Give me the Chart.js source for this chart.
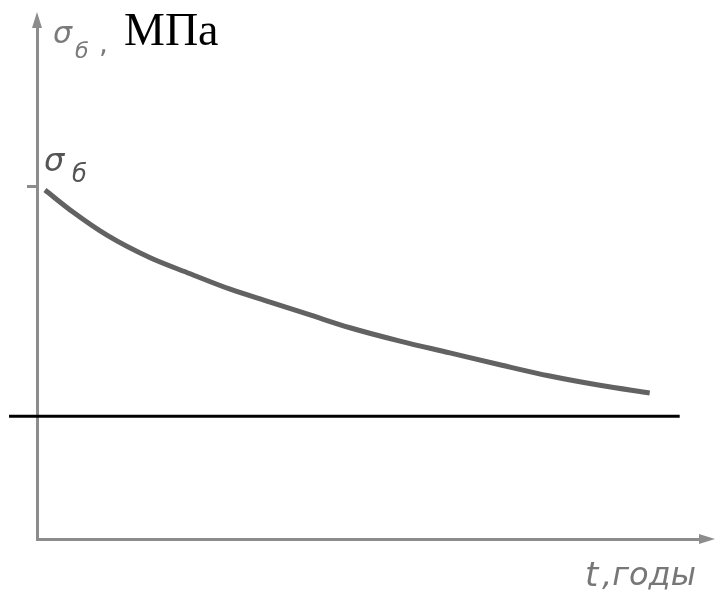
<!DOCTYPE html>
<html>
<head>
<meta charset="utf-8">
<script src="https://cdn.jsdelivr.net/npm/chart.js@4"></script>
<style>
  html, body { margin: 0; padding: 0; background: #fff; }
  #wrap { width: 719px; height: 599px; }
</style>
</head>
<body>
<div id="wrap"><canvas id="decayChart"></canvas></div>
<script>
// time axis (arbitrary units, 0..100) and strength (arbitrary units, 0..100)
const years = [1.2, 5.4, 10.5, 17.0, 23.0, 29.0, 35.0, 41.0, 47.0, 54.5, 62.0, 69.5, 77.0, 84.5, 92.0];
const strength = [67.9, 63.6, 59.1, 54.7, 51.6, 48.6, 46.1, 43.6, 41.1, 38.5, 36.2, 33.9, 31.7, 29.9, 28.4];
const sigmaStart = 68.5;          // marked on the y axis
const limitLevel = 23.9;          // horizontal line
const limitSpan = [-4.2, 96.5];   // from / to on the time axis

const AXIS_COLOR = '#8c8c8c';

// arrowheads on the axes + the hand-written labels
const sketchPlugin = {
  id: 'sketch',
  afterDraw(chart) {
    const { ctx, chartArea, scales } = chart;
    const x0 = scales.x.getPixelForValue(0);
    const y0 = scales.y.getPixelForValue(0);
    ctx.save();
    ctx.fillStyle = AXIS_COLOR;
    // y arrow
    ctx.beginPath();
    ctx.moveTo(x0, chartArea.top - 13);
    ctx.lineTo(x0 - 5, chartArea.top + 3);
    ctx.lineTo(x0 + 5, chartArea.top + 3);
    ctx.closePath();
    ctx.fill();
    // x arrow
    ctx.beginPath();
    ctx.moveTo(chartArea.right + 12, y0);
    ctx.lineTo(chartArea.right - 4, y0 - 5);
    ctx.lineTo(chartArea.right - 4, y0 + 5);
    ctx.closePath();
    ctx.fill();

    ctx.textBaseline = 'alphabetic';
    // axis title at the top
    ctx.fillStyle = '#7a7a7a';
    ctx.font = 'italic 30px "DejaVu Sans"';
    ctx.fillText('σ', x0 + 16, chartArea.top + 18);
    ctx.font = 'italic 22px "DejaVu Sans"';
    ctx.fillText('б', x0 + 38, chartArea.top + 33);
    ctx.font = '28px "DejaVu Sans"';
    ctx.fillText(',', x0 + 62, chartArea.top + 28);
    ctx.fillStyle = '#000';
    ctx.font = '46px "Liberation Serif"';
    ctx.fillText('МПа', x0 + 87, chartArea.top + 20);

    // sigma label at the start of the curve
    const ys = scales.y.getPixelForValue(sigmaStart);
    ctx.fillStyle = '#555';
    ctx.font = 'italic 32px "DejaVu Sans"';
    ctx.fillText('σ', x0 + 7, ys - 16);
    ctx.font = 'italic 24px "DejaVu Sans"';
    ctx.fillText('б', x0 + 35, ys - 5);

    // time label
    ctx.fillStyle = '#777';
    ctx.font = 'italic 34px "DejaVu Sans"';
    ctx.fillText('t', x0 + 548, y0 + 47);
    ctx.font = 'italic 32px "DejaVu Sans"';
    ctx.fillText(',годы', x0 + 565, y0 + 46);
    ctx.restore();
  }
};

new Chart(document.getElementById('decayChart'), {
  type: 'line',
  data: {
    datasets: [
      {
        data: years.map((t, i) => ({ x: t, y: strength[i] })),
        borderColor: '#626262',
        borderWidth: 5,
        pointRadius: 0,
        cubicInterpolationMode: 'monotone',
        fill: false
      },
      {
        data: limitSpan.map(t => ({ x: t, y: limitLevel })),
        borderColor: '#000',
        borderWidth: 3,
        pointRadius: 0,
        clip: false,
        fill: false
      }
    ]
  },
  options: {
    responsive: true,
    maintainAspectRatio: false,
    animation: false,
    layout: { padding: { left: 27, right: 16, top: 25, bottom: 60 } },
    plugins: {
      legend: { display: false },
      tooltip: { enabled: false }
    },
    scales: {
      x: {
        type: 'linear',
        min: 0,
        max: 100,
        grid: { display: false, drawTicks: false },
        ticks: { display: false },
        border: { color: AXIS_COLOR, width: 3 }
      },
      y: {
        type: 'linear',
        min: 0,
        max: 100,
        afterBuildTicks(scale) {
          scale.ticks = [{ value: sigmaStart }];
        },
        grid: { drawOnChartArea: false, tickLength: 10, color: AXIS_COLOR, lineWidth: 3 },
        ticks: { display: false },
        border: { color: AXIS_COLOR, width: 3 }
      }
    }
  },
  plugins: [sketchPlugin]
});
</script>
</body>
</html>
